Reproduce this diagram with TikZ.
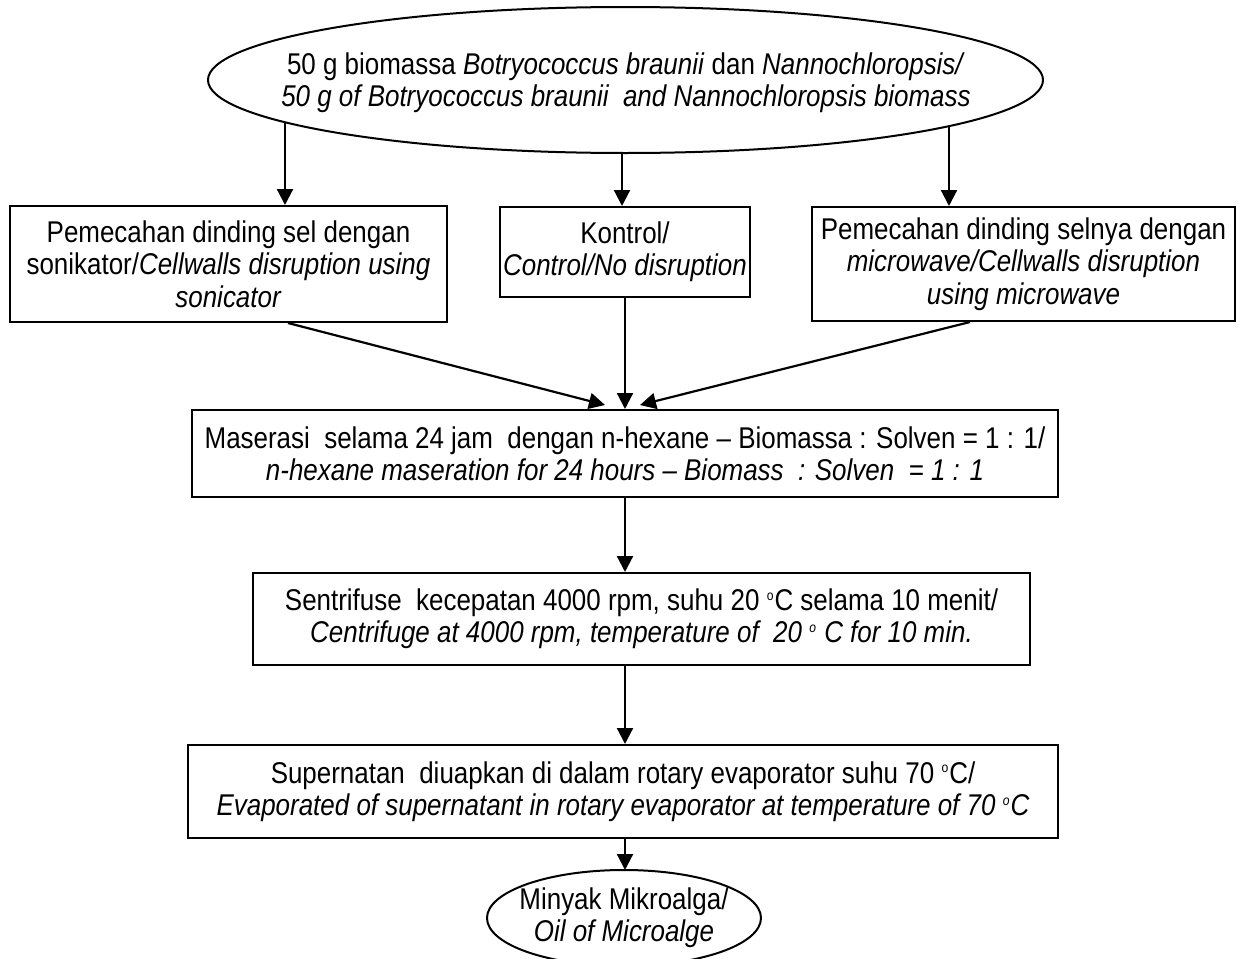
\documentclass[tikz,border=0pt]{standalone}
\usepackage{fontspec}
\setmainfont{Liberation Sans}[FakeStretch=0.865]
\usetikzlibrary{shapes.geometric,arrows.meta}
\newcommand{\degsup}{\textsuperscript{\scriptsize o}}
\begin{document}
\begin{tikzpicture}[x=0.5pt,y=-0.5pt,
  every node/.style={font=\fontsize{15}{16.2}\selectfont, align=center, inner sep=0pt},
  boxnode/.style={draw, line width=1pt, rectangle},
  ovalline/.style={line width=1pt},
  arr/.style={line width=1.1pt, -{Triangle[length=8pt,width=8pt]}}]
\useasboundingbox (0,0) rectangle (1244,959);
% top ellipse
\draw[ovalline] (625.5,80) ellipse [x radius=208.75pt, y radius=36.5pt];
\node (top) at (626,83)
  {50 g biomassa \textit{Botryococcus braunii} dan \textit{Nannochloropsis/}\\
   \textit{50 g of Botryococcus braunii\ \ and Nannochloropsis biomass}};
\coordinate (tl) at (285,122);
\coordinate (tm) at (622,153);
\coordinate (tr) at (949,126);
\node[boxnode, minimum width=218.5pt, minimum height=58pt] (L) at (228.5,264)
  {Pemecahan dinding sel dengan\\ sonikator/\textit{Cellwalls disruption using}\\ \textit{sonicator}};
\node[boxnode, minimum width=125pt, minimum height=45pt] (M) at (625,252)
  {Kontrol/\\ \textit{Control/No disruption}};
\node[boxnode, minimum width=211.5pt, minimum height=57pt] (R) at (1023.5,264)
  {Pemecahan dinding selnya dengan\\ \textit{microwave/Cellwalls disruption}\\ \textit{using microwave}};
\node[boxnode, minimum width=433pt, minimum height=43.5pt] (mac) at (625,453.5)
  {Maserasi\ \ selama 24 jam\ \ dengan n-hexane -- Biomassa : Solven = 1 : 1/\\
   \textit{n-hexane maseration for 24 hours -- Biomass\ \ : Solven\ \ = 1 : 1}};
\node[boxnode, minimum width=388.5pt, minimum height=46pt] (cen) at (641.5,619)
  {Sentrifuse\ \ kecepatan 4000 rpm, suhu 20 \degsup C selama 10 menit/\\
   \textit{Centrifuge at 4000 rpm, temperature of\ \ 20 \degsup\ C for 10 min.}};
\node[boxnode, minimum width=435pt, minimum height=46.5pt] (eva) at (623,791.5)
  {Supernatan\ \ diuapkan di dalam rotary evaporator suhu 70 \degsup C/\\
   \textit{Evaporated of supernatant in rotary evaporator at temperature of 70 \degsup C}};
% bottom ellipse
\draw[ovalline] (624,918) ellipse [x radius=68.5pt, y radius=24pt];
\node (oil) at (624,918)
  {Minyak Mikroalga/\\ \textit{Oil of Microalge}};
\coordinate (ot) at (625,870);
% arrows from top
\draw[arr] (tl) -- (tl |- L.north);
\draw[arr] (tm) -- (tm |- M.north);
\draw[arr] (tr) -- (tr |- R.north);
% arrows to maceration
\draw[arr] ([xshift=29.75pt]L.south) -- ([xshift=-10pt,yshift=2pt]mac.north);
\draw[arr] (M.south) -- (M.south |- mac.north);
\draw[arr] ([xshift=-26.75pt]R.south) -- ([xshift=7.5pt,yshift=2pt]mac.north);
% vertical chain
\draw[arr] (mac.south) -- (mac.south |- cen.north);
\draw[arr] (mac.south |- cen.south) -- (mac.south |- eva.north);
\draw[arr] (mac.south |- eva.south) -- (ot);
\end{tikzpicture}
\end{document}
